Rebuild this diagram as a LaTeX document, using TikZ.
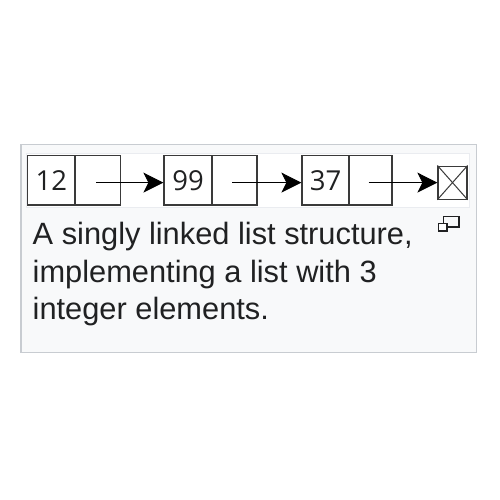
\documentclass[tikz,border=0pt]{standalone}
\usepackage{fontspec}
\setmainfont{Liberation Sans}
\newfontfamily\numfont{Open Sans}
\usetikzlibrary{arrows.meta}
\definecolor{framebg}{HTML}{F8F9FA}
\definecolor{frameline}{HTML}{C8CCD1}
\definecolor{imgline}{HTML}{EAECF0}
\definecolor{celline}{HTML}{3A3A3A}
\definecolor{captext}{HTML}{202122}
\tikzset{
  cell/.style={draw=celline, line width=1.2pt, fill=white, inner sep=0pt, minimum height=49.5pt,
    font=\numfont\fontsize{27.5}{27.5}\selectfont, text=captext},
  link/.style={line width=0.9pt, -{Stealth[length=20pt, width=20pt, inset=5pt]}},
  captionline/.style={anchor=base west, inner sep=0pt, text=captext, font=\fontsize{30.8}{37.5}\selectfont},
  iconbox/.style={draw=captext, line width=1.3pt}
}
\begin{document}
\begin{tikzpicture}[x=1pt,y=-1pt]
\useasboundingbox (0,0) rectangle (500,500);
% frame
\path[fill=framebg, draw=frameline, line width=1.5pt] (21,144.5) rectangle (476.5,352.5);
\path[fill=white, draw=imgline, line width=1pt] (26,153) rectangle (469.5,207);
% nodes
\node[cell, minimum width=47.5pt] (v1) at (51.25,180.3) {12};
\node[cell, minimum width=45.5pt] (p1) at (98,180.3) {};
\node[cell, minimum width=48pt] (v2) at (188,180.3) {99};
\node[cell, minimum width=45pt] (p2) at (234.5,180.3) {};
\node[cell, minimum width=47pt] (v3) at (325.5,180.3) {37};
\node[cell, minimum width=43pt] (p3) at (370.5,180.3) {};
\node[draw=celline, line width=1.2pt, fill=white, inner sep=0pt, minimum width=29pt, minimum height=33pt] (nil) at (452.5,182.6) {};
\draw[celline, line width=1pt] (nil.north west) -- (nil.south east) (nil.north east) -- (nil.south west);
% links
\coordinate (s1) at (96,182.6);
\coordinate (s2) at (232,182.6);
\coordinate (s3) at (368.5,182.6);
\draw[link] (s1) -- (s1 -| v2.west);
\draw[link] (s2) -- (s2 -| v3.west);
\draw[link] (s3) -- (s3 -| nil.west);
% caption
\node[captionline] (c1) at (32.5,244.5) {A singly linked list structure,};
\node[captionline] (c2) at (32.5,282) {implementing a list with 3};
\node[captionline] (c3) at (32.5,319.5) {integer elements.};
% enlarge icon
\draw[iconbox, fill=framebg] (443.5,216.5) rectangle (459,227);
\draw[iconbox, fill=white] (438.5,223.5) rectangle (447,231);
\end{tikzpicture}
\end{document}
